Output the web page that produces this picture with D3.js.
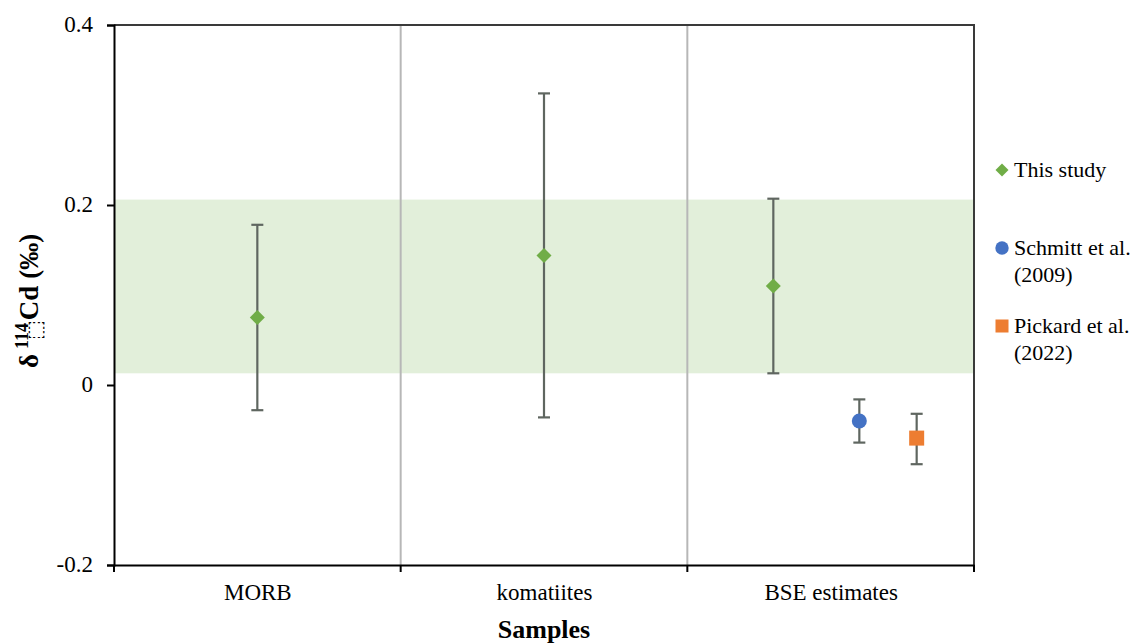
<!DOCTYPE html>
<html>
<head>
<meta charset="utf-8">
<script src="https://cdn.jsdelivr.net/npm/d3@7"></script>
<style>
  html, body { margin: 0; padding: 0; background: #fff; }
  svg { display: block; }
  text { font-family: "Liberation Serif", "Times New Roman", serif; fill: #000; }
</style>
</head>
<body>
<svg id="chart" width="1146" height="643"></svg>
<script>
// Category labels sit at whole-number positions along the x axis
const categories = ["MORB", "komatiites", "BSE estimates"];
const categoryPos = [1, 2, 3];

// δ114Cd values (‰) with error-bar ends
const thisStudyX = [1, 2, 2.8];
const thisStudyY = [0.075, 0.144, 0.110];
const thisStudyLo = [-0.028, -0.036, 0.013];
const thisStudyHi = [0.178, 0.324, 0.207];

const schmittX = [3.1];
const schmittY = [-0.040];
const schmittLo = [-0.064];
const schmittHi = [-0.016];

const pickardX = [3.3];
const pickardY = [-0.059];
const pickardLo = [-0.088];
const pickardHi = [-0.032];

// Shaded BSE range
const bandRange = [0.013, 0.206];

const yTicks = [-0.2, 0, 0.2, 0.4];
const yTickLabels = ["-0.2", "0", "0.2", "0.4"];

const legendNames = [["This study"], ["Schmitt et al.", "(2009)"], ["Pickard et al.", "(2022)"]];

const svg = d3.select("#chart");
const plotL = 114, plotR = 974, plotT = 25, plotB = 565;
const serif = '"Liberation Serif", "Times New Roman", serif';

const x = d3.scaleLinear().domain([0.5, 3.5]).range([plotL, plotR]);
const y = d3.scaleLinear().domain([-0.2, 0.4]).range([plotB, plotT]);

const green = "#70ad47", blue = "#4472c4", orange = "#ed7d31";
const errColor = "#5f6660";

// shaded band
svg.append("rect")
  .attr("x", plotL).attr("width", plotR - plotL)
  .attr("y", y(bandRange[1])).attr("height", y(bandRange[0]) - y(bandRange[1]))
  .attr("fill", "#e2efda");

// vertical separators between categories
svg.selectAll("line.sep").data([1.5, 2.5]).enter().append("line")
  .attr("class", "sep")
  .attr("x1", d => x(d)).attr("x2", d => x(d))
  .attr("y1", plotT).attr("y2", plotB)
  .attr("stroke", "#b7b7b7").attr("stroke-width", 2);

// frame top/right
svg.append("path")
  .attr("d", `M${plotL},${plotT}H${plotR}V${plotB}`)
  .attr("fill", "none").attr("stroke", "#3a3a3a").attr("stroke-width", 2);

// y axis
const yAxis = d3.axisLeft(y).tickValues(yTicks)
  .tickFormat((d, i) => yTickLabels[i]).tickSize(7).tickPadding(14);
const gy = svg.append("g").attr("transform", `translate(${plotL},0)`).call(yAxis);
gy.style("font-family", serif).style("font-size", "23px");
gy.select(".domain").attr("stroke", "#000").attr("stroke-width", 2);
gy.selectAll(".tick line").attr("stroke", "#000").attr("stroke-width", 2);
gy.selectAll(".tick text").style("font-family", serif).style("font-size", "23px").attr("dy", "0.3em");

// x axis
const xAxis = d3.axisBottom(x).tickValues(categoryPos)
  .tickFormat((d, i) => categories[i]).tickSize(0).tickPadding(19);
const gx = svg.append("g").attr("transform", `translate(0,${plotB})`).call(xAxis);
gx.style("font-family", serif).style("font-size", "23px");
gx.select(".domain").attr("stroke", "#000").attr("stroke-width", 2);
gx.selectAll(".tick text").style("font-family", serif).style("font-size", "23px");
// tick marks at category boundaries
gx.selectAll("line.bt").data([0.5, 1.5, 2.5, 3.5]).enter().append("line")
  .attr("x1", d => x(d)).attr("x2", d => x(d)).attr("y1", 0).attr("y2", 7)
  .attr("stroke", "#000").attr("stroke-width", 2);

// error bars
function errorBars(xs, los, his) {
  const g = svg.append("g");
  xs.forEach((xv, i) => {
    g.append("line").attr("x1", x(xv)).attr("x2", x(xv))
      .attr("y1", y(los[i])).attr("y2", y(his[i]))
      .attr("stroke", errColor).attr("stroke-width", 2.2);
    [los[i], his[i]].forEach(v => {
      g.append("line").attr("x1", x(xv) - 6).attr("x2", x(xv) + 6)
        .attr("y1", y(v)).attr("y2", y(v))
        .attr("stroke", errColor).attr("stroke-width", 2.2);
    });
  });
}
errorBars(thisStudyX, thisStudyLo, thisStudyHi);
errorBars(schmittX, schmittLo, schmittHi);
errorBars(pickardX, pickardLo, pickardHi);

const diamondPath = "M0,-7.5L7.5,0L0,7.5L-7.5,0Z";

svg.selectAll("path.ts").data(thisStudyX).enter().append("path")
  .attr("d", diamondPath)
  .attr("transform", (d, i) => `translate(${x(d)},${y(thisStudyY[i])})`)
  .attr("fill", green);

svg.selectAll("circle.sc").data(schmittX).enter().append("circle")
  .attr("cx", d => x(d)).attr("cy", (d, i) => y(schmittY[i])).attr("r", 7.5)
  .attr("fill", blue);

svg.selectAll("rect.pk").data(pickardX).enter().append("rect")
  .attr("x", d => x(d) - 7.5).attr("y", (d, i) => y(pickardY[i]) - 7.5)
  .attr("width", 15).attr("height", 15)
  .attr("fill", orange);

// axis titles
svg.append("text").attr("x", (plotL + plotR) / 2).attr("y", 638)
  .attr("text-anchor", "middle").style("font-size", "26px").attr("font-weight", "bold")
  .text("Samples");

const yt = svg.append("text")
  .attr("transform", "translate(38,368) rotate(-90)")
  .attr("text-anchor", "start").style("font-size", "27px").attr("font-weight", "bold");
yt.append("tspan").text("δ");
yt.append("tspan").attr("dx", 5).attr("dy", -10).style("font-size", "18px").text("114");
yt.append("tspan").attr("dx", -17).attr("dy", 14).style("font-size", "21px")
  .attr("font-weight", "normal").style("font-family", "DejaVu Sans").text("⬚");
yt.append("tspan").attr("dx", 0).attr("dy", -4).text("Cd (‰)");

// legend
const legendY = [170, 248, 326];
const lg = svg.append("g");
legendNames.forEach((lines, i) => {
  const cy = legendY[i];
  if (i === 0) lg.append("path").attr("d", "M0,-6.5L6.5,0L0,6.5L-6.5,0Z")
    .attr("transform", `translate(1002,${cy})`).attr("fill", green);
  if (i === 1) lg.append("circle").attr("cx", 1002).attr("cy", cy).attr("r", 6.7).attr("fill", blue);
  if (i === 2) lg.append("rect").attr("x", 995.5).attr("y", cy - 6.5).attr("width", 13).attr("height", 13).attr("fill", orange);
  lines.forEach((t, j) => {
    lg.append("text").attr("x", 1014).attr("y", cy + j * 27).attr("dy", "0.3em")
      .style("font-size", "22px").text(t);
  });
});
</script>
</body>
</html>
